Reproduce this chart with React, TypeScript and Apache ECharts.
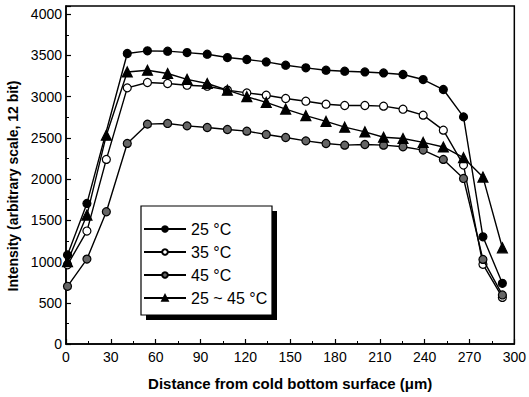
import React, { useEffect, useRef } from "react";
import * as echarts from "echarts";

const xPositions = [1, 14, 27, 41, 54.5, 68, 81, 94.5, 108, 121, 134, 147, 160.5, 174, 186.5, 200, 212.5, 225.5, 239, 252.5, 266, 279, 292];
const t25 = [1080, 1705, null, 3524, 3556, 3552, 3535, 3515, 3475, 3451, 3422, 3382, 3350, 3321, 3309, 3300, 3288, 3269, 3208, 3087, 2755, 1300, 736];
const t35 = [960, 1370, 2239, 3107, 3172, 3160, 3139, 3127, 3080, 3046, 3018, 2978, 2945, 2909, 2893, 2893, 2885, 2848, 2776, 2594, 2170, 966, 565];
const t45 = [700, 1030, 1604, 2433, 2667, 2675, 2646, 2626, 2602, 2582, 2542, 2505, 2464, 2432, 2412, 2420, 2412, 2392, 2352, 2239, 2008, 1026, 595];
const t2545 = [1000, 1564, 2533, 3300, 3321, 3281, 3210, 3160, 3079, 3000, 2930, 2850, 2770, 2700, 2630, 2573, 2508, 2493, 2445, 2390, 2260, 2025, 1167];
const seriesNames = ["25 °C", "35 °C", "45 °C", "25 ~ 45 °C"];
const xTitle = "Distance from cold bottom surface (μm)";
const yTitle = "Intensity (arbitrary scale, 12 bit)";

const FONT = "'Liberation Sans', Arial, sans-serif";

export default function App() {
  const ref = useRef<HTMLDivElement>(null);
  useEffect(() => {
    if (!ref.current) return;
    const chart = echarts.init(ref.current, undefined, { renderer: "svg" });
    const pairs = (arr: (number | null)[]) =>
      arr.map((v, i) => (v === null ? [xPositions[i], null] : [xPositions[i], v]));
    const styles = [
      { symbol: "circle", size: 8, color: "#000", border: "#000" },
      { symbol: "circle", size: 8, color: "#fff", border: "#000" },
      { symbol: "circle", size: 8, color: "#666", border: "#000" },
      { symbol: "triangle", size: 10, color: "#000", border: "#000" },
    ];
    const datas = [t25, t35, t45, t2545];
    chart.setOption({
      animation: false,
      backgroundColor: "#fff",
      textStyle: { fontFamily: FONT },
      grid: {
        left: 66,
        right: 11,
        top: 6,
        bottom: 53,
        show: true,
        borderColor: "#000",
        borderWidth: 1.5,
      },
      legend: {
        orient: "vertical",
        left: 143,
        top: 221,
        padding: 0,
        itemWidth: 42,
        itemHeight: 7,
        itemGap: 7,
        z: 10,
        data: seriesNames,
        textStyle: { fontSize: 16, lineHeight: 14, color: "#000", fontFamily: FONT },
      },
      xAxis: {
        type: "value",
        min: 0,
        max: 300,
        interval: 30,
        name: xTitle,
        nameLocation: "middle",
        nameGap: 32,
        nameTextStyle: { fontSize: 15, fontWeight: "bold", color: "#000", fontFamily: FONT },
        axisLine: { show: true, lineStyle: { color: "#000", width: 1.5 } },
        axisTick: { show: true, inside: true, length: 5, lineStyle: { color: "#000", width: 1.2 } },
        minorTick: { show: true, splitNumber: 2, length: 3, lineStyle: { color: "#000", width: 1 } },
        axisLabel: { fontSize: 14, color: "#000", margin: 6, fontFamily: FONT },
        splitLine: { show: false },
      },
      yAxis: {
        type: "value",
        min: 0,
        max: 4100,
        interval: 500,
        axisLine: { show: true, lineStyle: { color: "#000", width: 1.5 } },
        axisTick: { show: true, inside: true, length: 5, lineStyle: { color: "#000", width: 1.2 } },
        minorTick: { show: true, splitNumber: 2, length: 3, lineStyle: { color: "#000", width: 1 } },
        axisLabel: {
          fontSize: 14,
          color: "#000",
          margin: 4,
          fontFamily: FONT,
          formatter: (v: number) => (v % 500 === 0 ? String(v) : ""),
        },
        splitLine: { show: false },
      },
      graphic: [
        {
          type: "rect",
          z: 1,
          shape: { x: 146, y: 211, width: 131, height: 109 },
          style: { fill: "#000" },
        },
        {
          type: "rect",
          z: 2,
          shape: { x: 141, y: 206, width: 131, height: 109 },
          style: { fill: "#fff", stroke: "#000", lineWidth: 1.2 },
        },
        {
          type: "text",
          z: 3,
          x: 13,
          y: 186,
          rotation: Math.PI / 2,
          style: {
            text: yTitle,
            fontSize: 14,
            fontWeight: "bold",
            fill: "#000",
            fontFamily: FONT,
            align: "center",
            verticalAlign: "middle",
          },
        },
      ],
      series: datas.map((d, i) => ({
        name: seriesNames[i],
        type: "line",
        data: pairs(d),
        connectNulls: true,
        symbol: styles[i].symbol,
        symbolSize: styles[i].size,
        showAllSymbol: true,
        lineStyle: { color: "#000", width: 1.4 },
        itemStyle: { color: styles[i].color, borderColor: styles[i].border, borderWidth: 1.2 },
        z: 2 + i,
      })),
    });
    return () => chart.dispose();
  }, []);
  return (
    <div
      ref={ref}
      style={{ position: "absolute", left: 0, top: 0, width: 529, height: 397 }}
    />
  );
}
